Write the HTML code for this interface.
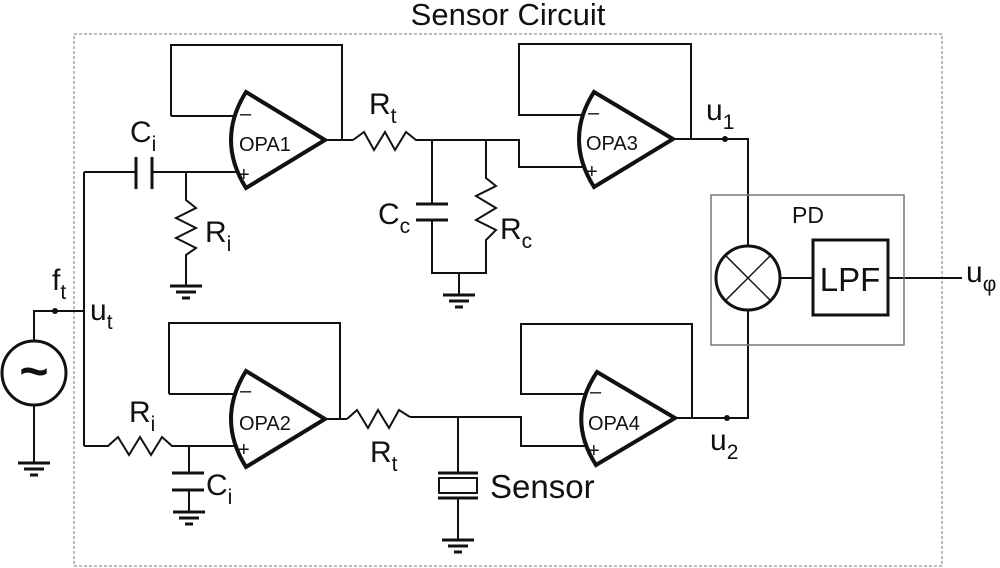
<!DOCTYPE html>
<html><head><style>body{margin:0;background:#fff}svg{display:block}text{font-family:"Liberation Sans",sans-serif;fill:#111}</style></head><body>
<svg width="1000" height="568" viewBox="0 0 1000 568" xmlns="http://www.w3.org/2000/svg">
<defs>
<g id="gnd" stroke="#111" stroke-width="3"><line x1="-16" y1="0" x2="16" y2="0"/><line x1="-10" y1="6" x2="10" y2="6"/><line x1="-4" y1="12" x2="4" y2="12"/></g>
</defs>
<text x="508" y="25" font-size="31" text-anchor="middle">Sensor Circuit</text>
<rect x="74" y="34" width="868" height="532" fill="none" stroke="#777" stroke-width="1" stroke-dasharray="3,2"/>
<g fill="none" stroke="#111" stroke-width="2">
<polyline points="84,311 34,311 34,341"/>
<circle cx="34" cy="373" r="32" stroke-width="3"/>
<line x1="34" y1="405" x2="34" y2="463"/>
<line x1="84" y1="172" x2="84" y2="446"/>
<line x1="84" y1="172" x2="136" y2="172"/>
<line x1="136" y1="157" x2="136" y2="189" stroke-width="3"/>
<line x1="152" y1="157" x2="152" y2="189" stroke-width="3"/>
<line x1="152" y1="172" x2="240" y2="172"/>
<polyline points="186,172 186,200 196,208 176,218 196,228 176,238 196,248 186,255 186,286"/>
<polyline points="171,116 171,45 342,45 342,140"/>
<line x1="171" y1="116" x2="236" y2="116"/>
<line x1="325" y1="140" x2="353" y2="140"/>
<polyline points="353,140 364,132 374,150 385,132 395,150 406,132 416,140 519,140 519,167 585,167"/>
<line x1="432" y1="140" x2="432" y2="204"/>
<line x1="416" y1="204" x2="448" y2="204" stroke-width="3"/>
<line x1="416" y1="220" x2="448" y2="220" stroke-width="3"/>
<polyline points="432,220 432,273 486,273 486,240 496,230 476,220 496,208 476,196 496,186 486,178 486,140"/>
<line x1="459" y1="273" x2="459" y2="295"/>
<polyline points="582,115 519,115 519,44 691,44 691,139"/>
<polyline points="673,139 748,139 748,246"/>
<circle cx="748" cy="278" r="32" stroke-width="3"/>
<line x1="725" y1="255" x2="771" y2="301" stroke-width="1.5"/>
<line x1="771" y1="255" x2="725" y2="301" stroke-width="1.5"/>
<line x1="780" y1="278" x2="813" y2="278"/>
<line x1="888" y1="278" x2="962" y2="278"/>
<polyline points="748,310 748,418 675,418"/>
<polyline points="584,394 521,394 521,324 692,324 692,418"/>
<polyline points="410,417 521,417 521,446 586,446"/>
<polyline points="169,394 169,323 340,323 340,419"/>
<line x1="169" y1="394" x2="236" y2="394"/>
<line x1="325" y1="419" x2="347" y2="419"/>
<polyline points="347,419 357,410 368,428 378,410 389,428 399,410 410,417"/>
<line x1="458" y1="417" x2="458" y2="473"/>
<line x1="438" y1="473" x2="478" y2="473" stroke-width="3"/>
<rect x="439" y="478" width="38" height="15"/>
<line x1="438" y1="498" x2="478" y2="498" stroke-width="3"/>
<line x1="458" y1="498" x2="458" y2="540"/>
<polyline points="84,446 108,446 118,437 129,455 140,437 151,455 162,437 172,446 240,446"/>
<line x1="189" y1="446" x2="189" y2="473"/>
<line x1="172" y1="473" x2="204" y2="473" stroke-width="3"/>
<line x1="172" y1="490" x2="204" y2="490" stroke-width="3"/>
<line x1="189" y1="490" x2="189" y2="512"/>
</g>
<g fill="#fff" stroke="#111" stroke-width="4">
<path d="M246,92 L325,140 L246,188 Q216,140 246,92Z"/>
<path d="M594,92 L673,139 L594,187 Q564,139 594,92Z"/>
<path d="M597,372 L675,418 L596,465 Q566,418 597,372Z"/>
<path d="M246,371 L325,419 L246,467 Q216,419 246,371Z"/>
</g>
<g font-size="20">
<text x="240" y="120">–</text><text x="238" y="181">+</text><text x="239" y="151">OPA1</text>
<text x="588" y="119">–</text><text x="586" y="178">+</text><text x="586" y="150">OPA3</text>
<text x="590" y="398">–</text><text x="588" y="457">+</text><text x="588" y="430">OPA4</text>
<text x="240" y="397">–</text><text x="238" y="456">+</text><text x="239" y="430">OPA2</text>
</g>
<rect x="711" y="195" width="193" height="150" fill="none" stroke="#777" stroke-width="1.5"/>
<rect x="813" y="240" width="75" height="75" fill="none" stroke="#111" stroke-width="3"/>
<text x="850" y="291" font-size="33" text-anchor="middle">LPF</text>
<text x="808" y="223" font-size="23" text-anchor="middle">PD</text>
<circle cx="55" cy="311" r="3" fill="#111"/>
<circle cx="725" cy="139" r="3" fill="#111"/>
<circle cx="727" cy="418" r="3" fill="#111"/>
<text x="34" y="388" font-size="50" text-anchor="middle" font-weight="bold">~</text>
<use href="#gnd" x="34" y="463"/>
<use href="#gnd" x="186" y="286"/>
<use href="#gnd" x="459" y="295"/>
<use href="#gnd" x="458" y="540"/>
<use href="#gnd" x="189" y="512"/>
<g font-size="30">
<text x="130" y="142">C<tspan font-size="21" dy="9">i</tspan></text>
<text x="205" y="242">R<tspan font-size="21" dy="9">i</tspan></text>
<text x="369" y="114">R<tspan font-size="21" dy="9">t</tspan></text>
<text x="378" y="224">C<tspan font-size="21" dy="9">c</tspan></text>
<text x="500" y="239">R<tspan font-size="21" dy="9">c</tspan></text>
<text x="52" y="290">f<tspan font-size="21" dy="9">t</tspan></text>
<text x="90" y="320">u<tspan font-size="21" dy="9">t</tspan></text>
<text x="129" y="422">R<tspan font-size="21" dy="9">i</tspan></text>
<text x="206" y="495">C<tspan font-size="21" dy="9">i</tspan></text>
<text x="370" y="462">R<tspan font-size="21" dy="9">t</tspan></text>
<text x="490" y="498" font-size="33">Sensor</text>
<text x="706" y="120">u<tspan font-size="21" dy="9">1</tspan></text>
<text x="710" y="450">u<tspan font-size="21" dy="9">2</tspan></text>
<text x="966" y="282">u<tspan font-size="21" dy="9">φ</tspan></text>
</g>
</svg>
</body></html>
